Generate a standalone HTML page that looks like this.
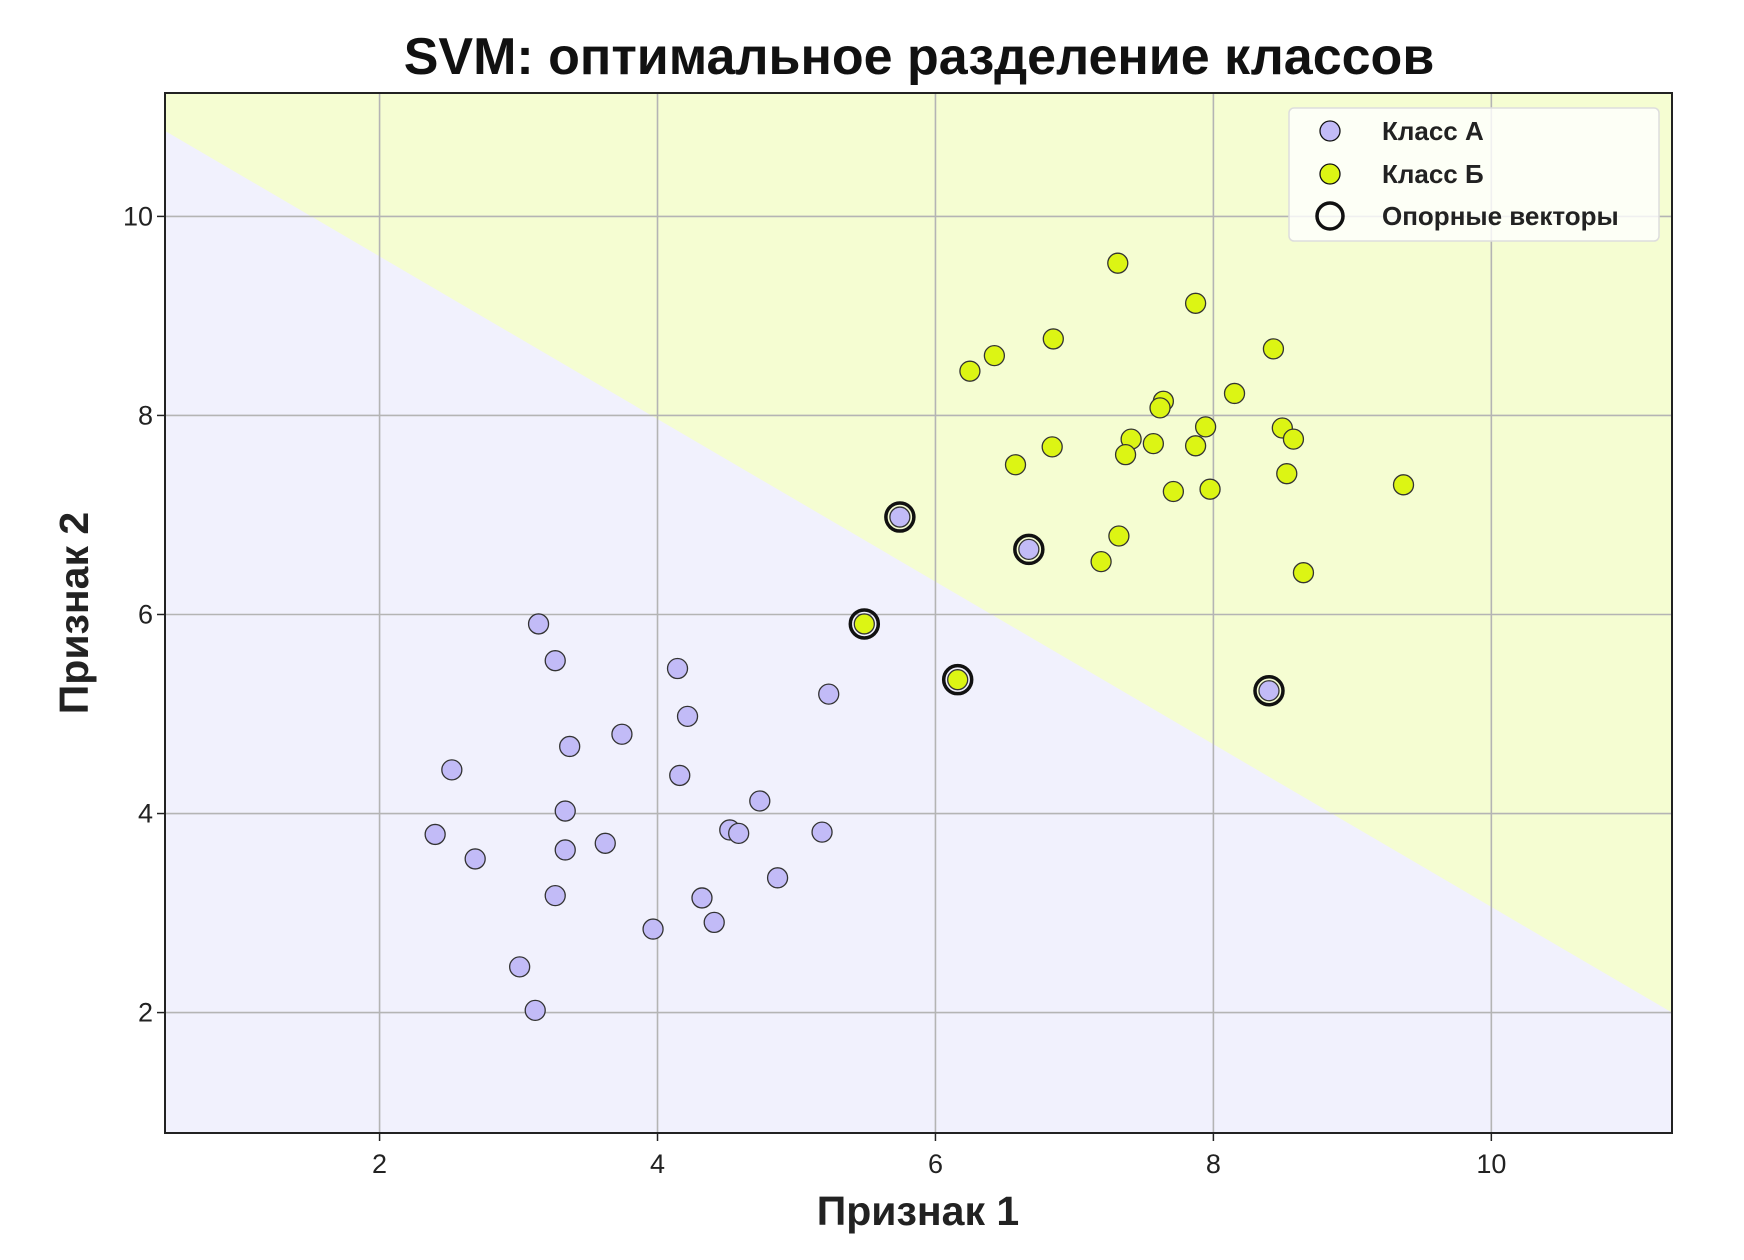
<!DOCTYPE html>
<html><head><meta charset="utf-8"><style>
html,body{margin:0;padding:0;background:#fff;}
svg{display:block;font-family:"Liberation Sans","DejaVu Sans",sans-serif;}
</style></head><body>
<svg id="chart" width="1744" height="1260" viewBox="0 0 1744 1260">
<text x="919" y="74" text-anchor="middle" font-size="52" font-weight="bold" fill="#111">SVM: оптимальное разделение классов</text>
<g id="plot"></g>
<text x="918" y="1225" text-anchor="middle" font-size="41" font-weight="bold" fill="#222">Признак 1</text>
<text transform="translate(88,613) rotate(-90)" text-anchor="middle" font-size="41" font-weight="bold" fill="#222">Признак 2</text>
</svg>
<script>
const classAX=[3.144,3.264,4.144,4.216,5.232,3.744,3.368,2.52,4.16,4.736,3.336,2.4,2.688,3.336,3.624,4.52,4.584,5.184,3.264,4.32,4.408,4.864,3.968,3.008,3.12,5.744,6.672,8.4];
const classAY=[5.905,5.536,5.457,4.976,5.2,4.797,4.674,4.439,4.383,4.126,4.025,3.79,3.544,3.634,3.701,3.835,3.801,3.813,3.175,3.152,2.906,3.354,2.839,2.459,2.022,6.979,6.654,5.234];
const classBX=[7.312,7.872,6.848,6.424,6.248,8.432,8.152,7.64,7.616,7.944,8.496,7.408,7.568,8.576,7.872,6.84,7.368,6.576,8.528,7.712,7.976,9.368,7.32,7.192,8.648,5.488,6.16];
const classBY=[9.53,9.127,8.769,8.601,8.445,8.669,8.221,8.143,8.076,7.885,7.874,7.762,7.717,7.762,7.695,7.684,7.606,7.505,7.415,7.236,7.259,7.303,6.789,6.531,6.42,5.905,5.345];
const supportX=[5.744,6.672,8.4,5.488,6.16];
const supportY=[6.979,6.654,5.234,5.905,5.345];
const boundaryX=[0.456,11.3];
const boundaryY=[10.86,2.0];
const xTicks=[2,4,6,8,10];
const yTicks=[2,4,6,8,10];
const legendLabels=["Класс А","Класс Б","Опорные векторы"];

const L=165,R=1672,T=93,B=1133;
const xMin=0.456,xMax=11.3,yMin=0.79,yMax=11.24;
const sx=v=>L+(v-xMin)/(xMax-xMin)*(R-L);
const sy=v=>B-(v-yMin)/(yMax-yMin)*(B-T);
const NS="http://www.w3.org/2000/svg";
const g=document.getElementById('plot');
function mk(t,a,p){const e=document.createElementNS(NS,t);for(const k in a)e.setAttribute(k,a[k]);(p||g).appendChild(e);return e;}

let e=mk('rect',{x:L,y:T,width:R-L,height:B-T,fill:'#f5fdd2'});


const bx0=sx(boundaryX[0]),by0=sy(boundaryY[0]),bx1=sx(boundaryX[1]),by1=sy(boundaryY[1]);
e=mk('polygon',{points:`${bx0},${by0} ${bx1},${by1} ${R},${B} ${L},${B}`,fill:'#f1f1fd'});



xTicks.forEach(v=>{
 const x=sx(v);
 let l=mk('line',{x1:x,x2:x,y1:T,y2:B,stroke:'#b4b4b4','stroke-width':1.6});
 
 
 mk('line',{x1:x,x2:x,y1:B,y2:B+8,stroke:'#222','stroke-width':1.5});
 let t=mk('text',{x:x,y:B+40,'text-anchor':'middle','font-size':27,fill:'#222'});
 t.textContent=v;
 
 
});
yTicks.forEach(v=>{
 const y=sy(v);
 let l=mk('line',{x1:L,x2:R,y1:y,y2:y,stroke:'#b4b4b4','stroke-width':1.6});
 
 
 mk('line',{x1:L-8,x2:L,y1:y,y2:y,stroke:'#222','stroke-width':1.5});
 let t=mk('text',{x:L-12,y:y+9,'text-anchor':'end','font-size':27,fill:'#222'});
 t.textContent=v;
 
 
});

classAX.forEach((v,i)=>{
 let c=mk('circle',{cx:sx(v),cy:sy(classAY[i]),r:10,fill:'#c2bbf7',stroke:'#333','stroke-width':1.3});
 
 
});
classBX.forEach((v,i)=>{
 let c=mk('circle',{cx:sx(v),cy:sy(classBY[i]),r:10,fill:'#dcf514',stroke:'#333','stroke-width':1.3});
 
 
});
supportX.forEach((v,i)=>{
 let c=mk('circle',{cx:sx(v),cy:sy(supportY[i]),r:14,fill:'none',stroke:'#111','stroke-width':3.5});
 
 
});

e=mk('rect',{x:L,y:T,width:R-L,height:B-T,fill:'none',stroke:'#222','stroke-width':2});



const lg=mk('g',{});


mk('rect',{x:1289,y:108,width:370,height:133,rx:5,fill:'#ffffff','fill-opacity':0.8,stroke:'#ddd','stroke-width':1.5},lg);
const rowsY=[131,174,216];
const mfill=['#c2bbf7','#dcf514','none'];
legendLabels.forEach((lab,i)=>{
 let m=mk('circle',{cx:1330,cy:rowsY[i],r:i==2?13:10,fill:mfill[i],stroke:'#111','stroke-width':i==2?3.5:1.3},lg);
 
 
 let t=mk('text',{x:1382,y:rowsY[i]+9,'font-size':26,'font-weight':'bold',fill:'#222'},lg);
 t.textContent=lab;
 
 
});
</script>
</body></html>
